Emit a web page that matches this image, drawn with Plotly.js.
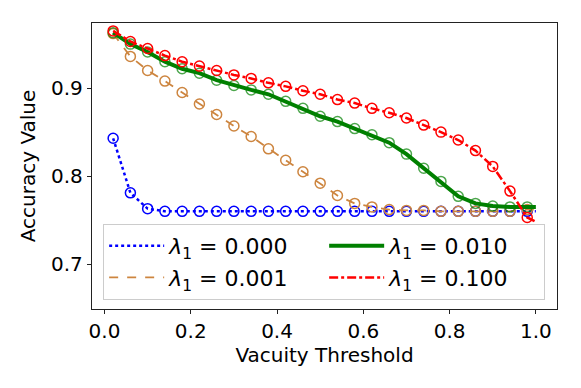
<!DOCTYPE html>
<html>
<head>
<meta charset="utf-8">
<script src="https://cdn.plot.ly/plotly-3.0.1.min.js"></script>
<style>
  html, body { margin: 0; padding: 0; background: #fff; }
  #chart { width: 581px; height: 388px; }
</style>
</head>
<body>
<div id="chart"></div>
<script>
// thresholds: markers every 0.04, line ends at 1.0
const thresholds = [0.02, 0.06, 0.10, 0.14, 0.18, 0.22, 0.26, 0.30, 0.34, 0.38,
  0.42, 0.46, 0.50, 0.54, 0.58, 0.62, 0.66, 0.70, 0.74, 0.78,
  0.82, 0.86, 0.90, 0.94, 0.98, 1.00];

const acc000 = [0.843, 0.781, 0.763, 0.760, 0.760, 0.760, 0.760, 0.760, 0.760, 0.760,
  0.760, 0.760, 0.760, 0.760, 0.760, 0.760, 0.760, 0.760, 0.760, 0.760,
  0.760, 0.760, 0.760, 0.760, 0.760, 0.760];
const acc001 = [0.962, 0.936, 0.920, 0.908, 0.895, 0.882, 0.870, 0.857, 0.845, 0.831,
  0.818, 0.805, 0.792, 0.778, 0.769, 0.765, 0.762, 0.761, 0.761, 0.760,
  0.760, 0.760, 0.760, 0.760, 0.762, 0.762];
const acc010 = [0.963, 0.950, 0.941, 0.930, 0.922, 0.917, 0.909, 0.903, 0.898, 0.893,
  0.885, 0.877, 0.868, 0.862, 0.854, 0.847, 0.838, 0.825, 0.809, 0.794,
  0.777, 0.769, 0.766, 0.765, 0.765, 0.765];
const acc100 = [0.965, 0.953, 0.945, 0.937, 0.930, 0.925, 0.920, 0.915, 0.911, 0.906,
  0.902, 0.897, 0.893, 0.887, 0.883, 0.877, 0.872, 0.866, 0.858, 0.850,
  0.841, 0.829, 0.811, 0.783, 0.753, 0.748];

const seriesNames = ['<i>λ</i><sub>1</sub> = 0.000', '<i>λ</i><sub>1</sub> = 0.001',
  '<i>λ</i><sub>1</sub> = 0.010', '<i>λ</i><sub>1</sub> = 0.100'];

const series = [
  { y: acc000, name: seriesNames[0], color: '#0000ff', mcolor: '#0000ff', dash: 'dot', width: 2.5, rank: 1 },
  { y: acc001, name: seriesNames[1], color: '#cd853f', mcolor: '#cd853f', dash: 'dash', width: 1.8, rank: 3 },
  { y: acc010, name: seriesNames[2], color: '#008000', mcolor: 'rgba(0,128,0,0.7)', dash: 'solid', width: 4, rank: 2 },
  { y: acc100, name: seriesNames[3], color: '#ff0000', mcolor: '#ff0000', dash: 'dashdot', width: 2.5, rank: 4 }
];

const nMarks = thresholds.length - 1;
const traces = [];
series.forEach(s => {
  traces.push({
    x: thresholds, y: s.y, name: s.name, type: 'scatter', mode: 'lines',
    line: { color: s.color, width: s.width, dash: s.dash },
    legendrank: s.rank
  });
  traces.push({
    x: thresholds.slice(0, nMarks), y: s.y.slice(0, nMarks), type: 'scatter', mode: 'markers',
    showlegend: false, hoverinfo: 'skip',
    marker: { symbol: 'circle-open', size: 10, color: s.mcolor, line: { width: 1.5, color: s.mcolor } }
  });
});

const axisFont = { family: 'DejaVu Sans', size: 20, color: '#000' };

Plotly.newPlot('chart', traces, {
  width: 581, height: 388,
  margin: { l: 92, r: 24, t: 23, b: 79 },
  paper_bgcolor: '#fff', plot_bgcolor: '#fff',
  font: axisFont,
  xaxis: {
    range: [-0.029, 1.049], tickvals: [0, 0.2, 0.4, 0.6, 0.8, 1.0], tickformat: '.1f',
    ticks: 'outside', ticklen: 4, tickcolor: '#222', tickfont: axisFont,
    showline: true, linecolor: '#222', linewidth: 1.2, mirror: true,
    showgrid: false, zeroline: false,
    title: { text: 'Vacuity Threshold', font: axisFont, standoff: 5 }
  },
  yaxis: {
    range: [0.649, 0.974], tickvals: [0.7, 0.8, 0.9], tickformat: '.1f',
    ticks: 'outside', ticklen: 4, tickcolor: '#222', tickfont: axisFont,
    showline: true, linecolor: '#222', linewidth: 1.2, mirror: true,
    showgrid: false, zeroline: false,
    title: { text: 'Accuracy Value', font: axisFont, standoff: 10 }
  },
  legend: {
    orientation: 'h', x: 0.024, y: 0.297, xanchor: 'left', yanchor: 'top',
    entrywidth: 150, itemwidth: 55, bgcolor: 'rgba(255,255,255,0.85)',
    bordercolor: '#cccccc', borderwidth: 1,
    font: { family: 'DejaVu Sans', size: 22, color: '#000' }
  },
  showlegend: true
}, { displayModeBar: false, staticPlot: true });
</script>
</body>
</html>
